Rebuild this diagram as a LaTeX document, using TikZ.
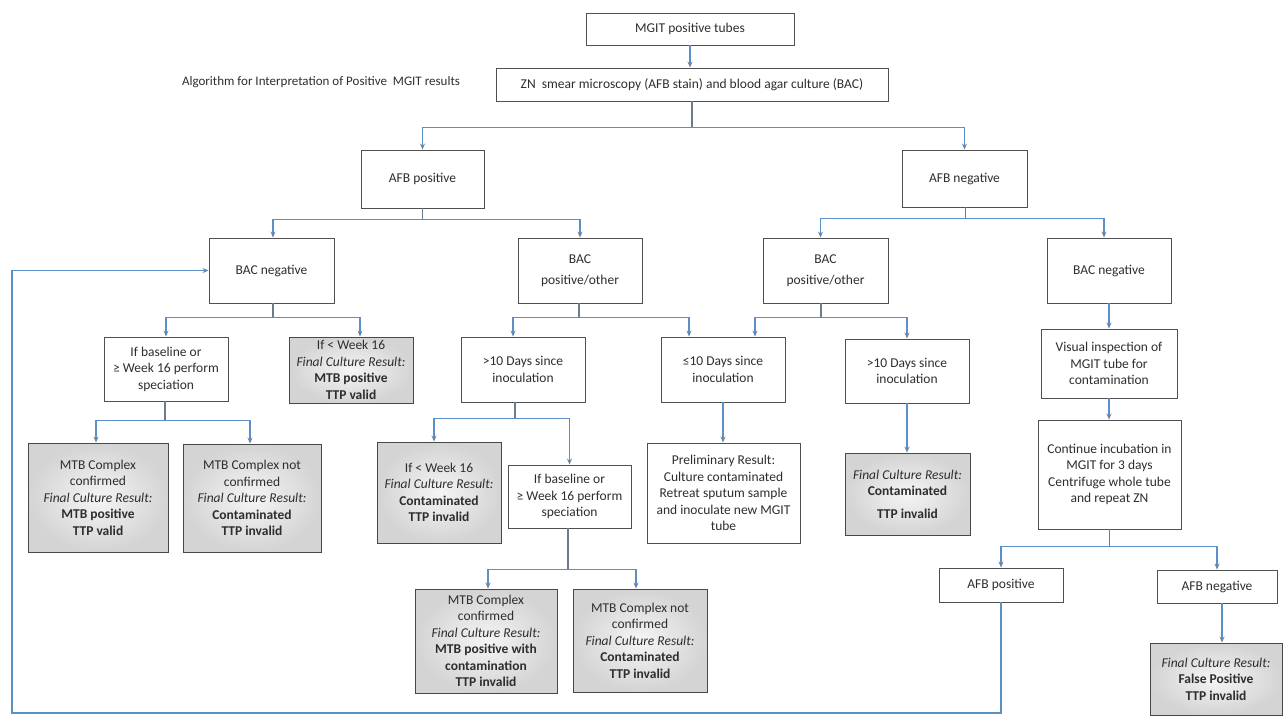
\documentclass[tikz,border=0pt]{standalone}
\usepackage{fontspec}
\setmainfont{Carlito}
\usetikzlibrary{arrows.meta,calc,shadows}

\definecolor{linec}{HTML}{5B8FC8}
\definecolor{stubc}{HTML}{6E7C8A}
\definecolor{tipc}{HTML}{6A86A3}
\definecolor{boxc}{HTML}{505050}
\definecolor{txt}{HTML}{2E2E2E}

\tikzset{
  box/.style={draw=boxc, line width=0.9pt, fill=white, align=center,
    inner sep=0pt, text=txt, font=\fontsize{13.5}{16.5}\selectfont},
  result/.style={box, draw=boxc!90!black, inner color=black!4, outer color=black!17,
    drop shadow={opacity=0.3, shadow xshift=1.2pt, shadow yshift=-1.2pt}},
  link/.style={draw=linec, line width=1.3pt,
    -{Stealth[length=6pt,width=5pt,color=tipc]}},
  stub/.style={draw=stubc, line width=1.1pt},
}

\begin{document}
\begin{tikzpicture}[x=1pt,y=-1pt]
\useasboundingbox (0,0) rectangle (1285,715);

% title and top boxes
\node[text=txt, font=\fontsize{13}{16}\selectfont] (title) at (321,82)
  {Algorithm for Interpretation of Positive\ \ MGIT results};
\node[box, minimum width=208, minimum height=32] (mgit) at (690,29) {MGIT positive tubes};
\node[box, minimum width=392, minimum height=33] (zn) at (692,84.5)
  {ZN\ \ smear microscopy (AFB stain) and blood agar culture (BAC)};

% smear result
\node[box, minimum width=123, minimum height=58] (afbp) at (422.5,179) {AFB positive};
\node[box, minimum width=125, minimum height=57] (afbn) at (964.5,178.5) {AFB negative};

% blood agar result
\node[box, minimum width=125, minimum height=65] (bacnL) at (271.5,270.5) {BAC negative};
\node[box, minimum width=124, minimum height=65] (bacpL) at (580,270.5) {BAC\\[4pt]positive/other};
\node[box, minimum width=125, minimum height=65] (bacpR) at (825.5,270.5) {BAC\\[4pt]positive/other};
\node[box, minimum width=124, minimum height=65] (bacnR) at (1109,270.5) {BAC negative};

% third level
\node[box, minimum width=124, minimum height=64] (ifbase1) at (166,369)
  {If baseline or\\≥ Week 16 perform\\speciation};
\node[result, minimum width=124, minimum height=66] (ifweek1) at (351,370)
  {If < Week 16\\\textit{Final Culture Result:}\\\textbf{MTB positive}\\\textbf{TTP valid}};
\node[box, minimum width=124, minimum height=65] (gt10L) at (523,369.5)
  {>10 Days since\\inoculation};
\node[box, minimum width=124, minimum height=65] (le10) at (723,369.5)
  {≤10 Days since\\inoculation};
\node[box, minimum width=124, minimum height=64] (gt10R) at (907,371)
  {>10 Days since\\inoculation};
\node[box, minimum width=136, minimum height=69] (visual) at (1109,363.5)
  {Visual inspection of\\MGIT tube for\\contamination};

% fourth level
\node[result, minimum width=140, minimum height=109] (mtbc1) at (98,497.5)
  {MTB Complex\\confirmed\\\textit{Final Culture Result:}\\\textbf{MTB positive}\\\textbf{TTP valid}};
\node[result, minimum width=138, minimum height=108] (mtbnc1) at (252,498)
  {MTB Complex not\\confirmed\\\textit{Final Culture Result:}\\\textbf{Contaminated}\\\textbf{TTP invalid}};
\node[result, minimum width=124, minimum height=101] (ifweek2) at (439,492.5)
  {If < Week 16\\\textit{Final Culture Result:}\\\textbf{Contaminated}\\\textbf{TTP invalid}};
\node[box, minimum width=123, minimum height=63] (ifbase2) at (569.5,496.5)
  {If baseline or\\≥ Week 16 perform\\speciation};
\node[box, minimum width=153, minimum height=100] (prelim) at (723.5,493)
  {Preliminary Result:\\Culture contaminated\\Retreat sputum sample\\and inoculate new MGIT\\tube};
\node[result, minimum width=125, minimum height=82] (contam) at (907.5,494)
  {\textit{Final Culture Result:}\\\textbf{Contaminated}\\[6pt]\textbf{TTP invalid}};
\node[box, minimum width=143, minimum height=109] (cont) at (1109.5,474.5)
  {Continue incubation in\\MGIT for 3 days\\Centrifuge whole tube\\and repeat ZN};

% fifth level
\node[result, minimum width=142, minimum height=104] (mtbc2) at (486,641)
  {MTB Complex\\confirmed\\\textit{Final Culture Result:}\\\textbf{MTB positive with}\\\textbf{contamination}\\\textbf{TTP invalid}};
\node[result, minimum width=134, minimum height=103] (mtbnc2) at (640,640.5)
  {MTB Complex not\\confirmed\\\textit{Final Culture Result:}\\\textbf{Contaminated}\\\textbf{TTP invalid}};
\node[box, minimum width=124, minimum height=34] (afbp2) at (1001,585) {AFB positive};
\node[box, minimum width=120, minimum height=33] (afbn2) at (1217,586.5) {AFB negative};
\node[result, minimum width=132, minimum height=72] (fp) at (1216,679)
  {\textit{Final Culture Result:}\\\textbf{False Positive}\\\textbf{TTP invalid}};

% junction points of the branching connectors
\coordinate (j0) at ($(zn.south)+(0,26)$);
\coordinate (j1) at ($(afbp.south)+(0,11)$);
\coordinate (j2) at ($(afbn.south)+(1,11)$);
\coordinate (j3) at ($(bacnL.south)+(1.5,14)$);
\coordinate (j4) at ($(bacpL.south)+(-1,14)$);
\coordinate (j5) at ($(bacpR.south)+(-4.5,14)$);
\coordinate (j6) at ($(ifbase1.south)+(-1,19)$);
\coordinate (j7) at ($(gt10L.south)+(-8,16)$);
\coordinate (j8) at ($(ifbase2.south)+(-1.5,41)$);
\coordinate (j9) at ($(cont.south)+(0,17)$);
\coordinate (fbc) at (12,713);

% connectors
\draw[link] (mgit.south) -- (mgit.south |- zn.north);

\foreach \j/\p in {j0/zn,j1/afbp,j2/afbn,j3/bacnL,j4/bacpL,j5/bacpR,j6/ifbase1,j7/gt10L,j8/ifbase2,j9/cont}
  \draw[stub] (\j |- \p.south) -- (\j);

\draw[link] (j0) -| (afbp.north);
\draw[link] (j0) -| (afbn.north);
\draw[link] (j1) -| ([xshift=1.5pt]bacnL.north);
\draw[link] (j1) -| (bacpL.north);
\draw[link] (j2) -| ([xshift=-5pt]bacpR.north);
\draw[link] (j2) -| ([xshift=-5pt]bacnR.north);
\draw[link] (j3) -| (ifbase1.north);
\draw[link] (j3) -| ([xshift=9pt]ifweek1.north);
\draw[link] (j4) -| ([xshift=-10pt]gt10L.north);
\draw[link] (j4) -| ([xshift=-34pt]le10.north);
\draw[link] (j5) -| ([xshift=32pt]le10.north);
\draw[link] (j5) -| (gt10R.north);
\draw[link] (bacnR.south) -- (visual.north);
\draw[link] (j6) -| ([xshift=-2pt]mtbc1.north);
\draw[link] (j6) -| ([xshift=-2pt]mtbnc1.north);
\draw[link] (j7) -| ([xshift=-5pt]ifweek2.north);
\draw[link] (j7) -| (ifbase2.north);
\draw[link] (le10.south) -- (le10.south |- prelim.north);
\draw[link] (gt10R.south) -- (gt10R.south |- contam.north);
\draw[link] (visual.south) -- (visual.south |- cont.north);
\draw[link] (j8) -| ([xshift=2pt]mtbc2.north);
\draw[link] (j8) -| ([xshift=-4pt]mtbnc2.north);
\draw[link] (j9) -| (afbp2.north);
\draw[link] (j9) -| (afbn2.north);
\draw[link] ([xshift=5pt]afbn2.south) -- ([xshift=6pt]fp.north);

% smear positive after incubation leads back to the BAC negative path
\draw[link] (afbp2.south) |- (fbc) |- (bacnL.west);
\end{tikzpicture}
\end{document}
